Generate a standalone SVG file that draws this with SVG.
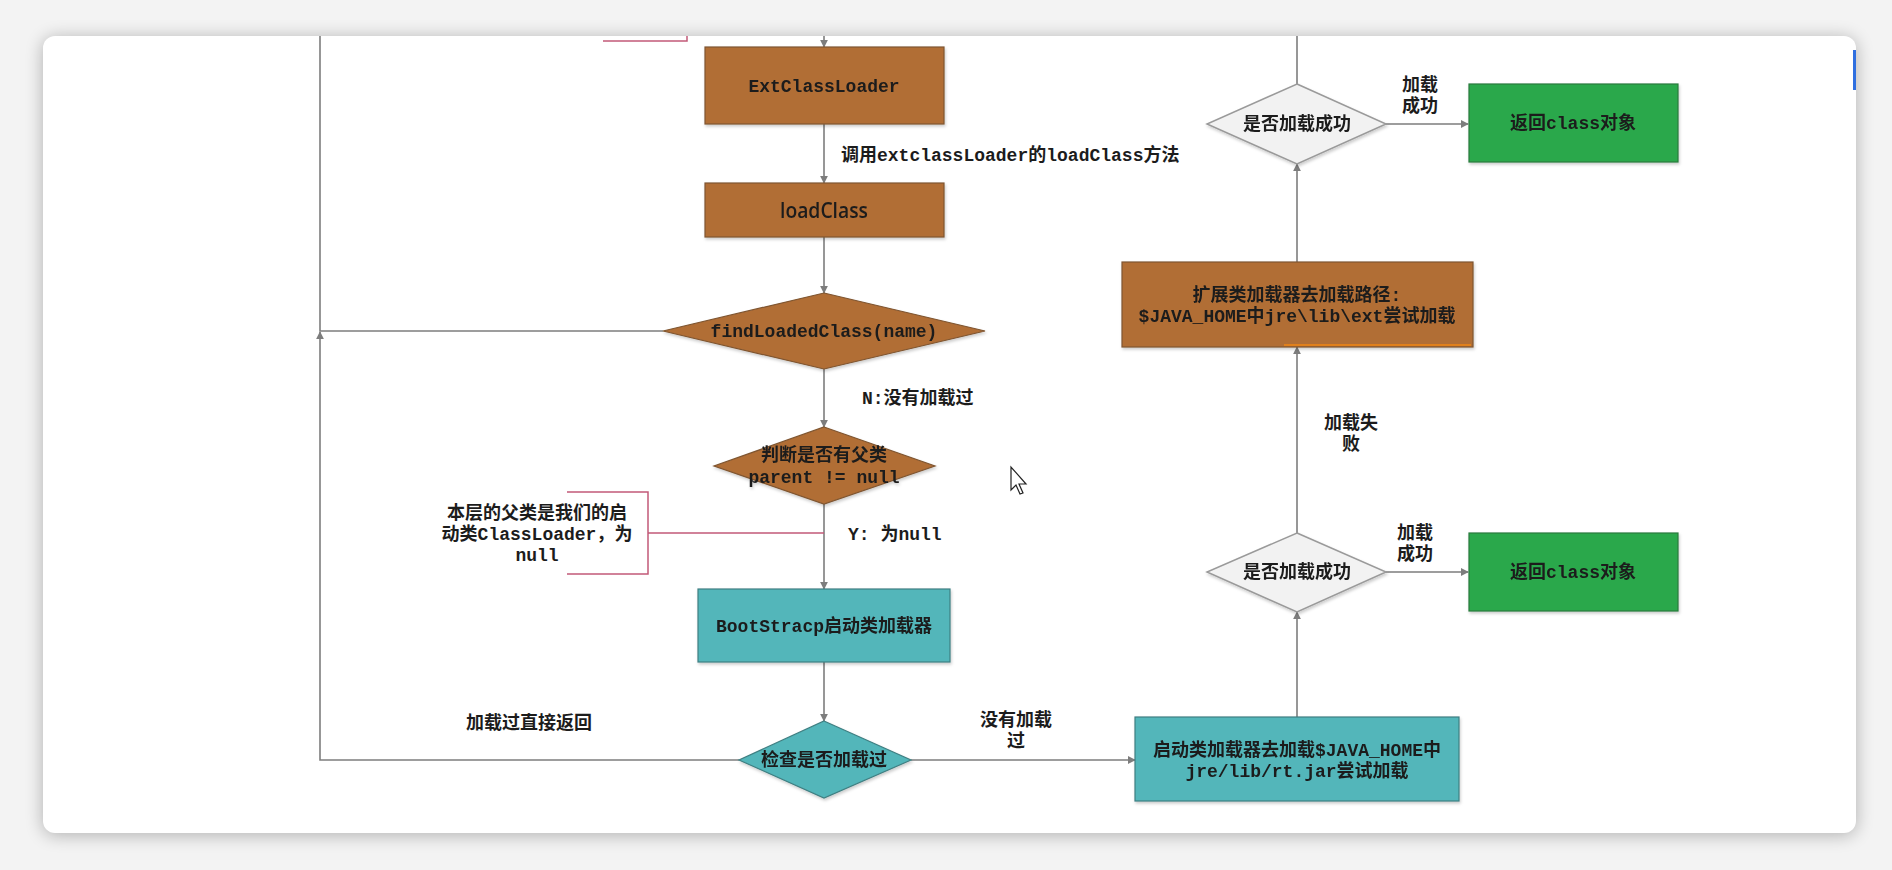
<svg xmlns="http://www.w3.org/2000/svg" width="1892" height="870" viewBox="0 0 1892 870">
<defs>
<style>
.t{font-family:"Liberation Mono","Noto Sans CJK SC",monospace;font-size:18px;font-weight:bold;fill:#1c1c1c;text-anchor:middle}
.l{text-anchor:start}
.conn{fill:none;stroke:#7d7d7d;stroke-width:1.6}
.note{fill:none;stroke:#c25a78;stroke-width:1.5}
.brown{fill:#b16e36;stroke:#7f5530;stroke-width:1.2}
.teal{fill:#52b6ba;stroke:#3f7f82;stroke-width:1.2}
.green{fill:#2ba84b;stroke:#2a7a3c;stroke-width:1.2}
.grey{fill:#f2f2f2;stroke:#9a9a9a;stroke-width:1.5}
</style>
<marker id="arr" viewBox="0 0 10 10" refX="9" refY="5" markerWidth="8" markerHeight="8" markerUnits="userSpaceOnUse" orient="auto">
<path d="M0,0 L10,5 L0,10 Z" fill="#7d7d7d"/>
</marker>
<filter id="sh" x="-5%" y="-5%" width="110%" height="110%">
<feGaussianBlur stdDeviation="9"/>
</filter>
<filter id="ds" x="-10%" y="-10%" width="120%" height="130%">
<feDropShadow dx="1" dy="2" stdDeviation="1.5" flood-color="#000" flood-opacity="0.2"/>
</filter>
</defs>
<rect x="0" y="0" width="1892" height="870" fill="#f3f3f3"/>
<rect x="43" y="38" width="1813" height="797" rx="12" fill="#000" opacity="0.28" filter="url(#sh)"/>
<rect x="43" y="36" width="1813" height="797" rx="12" fill="#ffffff"/>
<rect x="1853" y="50" width="3" height="40" fill="#2f6fe0"/>

<g id="connectors">
<path class="conn" d="M824,36 V47" marker-end="url(#arr)"/>
<path class="conn" d="M824,124 V183" marker-end="url(#arr)"/>
<path class="conn" d="M824,237 V293" marker-end="url(#arr)"/>
<path class="conn" d="M663,331 H320 V36"/>
<path class="conn" d="M739,760 H320 V332" marker-end="url(#arr)"/>
<path class="conn" d="M824,369 V427" marker-end="url(#arr)"/>
<path class="conn" d="M824,504 V589" marker-end="url(#arr)"/>
<path class="conn" d="M824,662 V721" marker-end="url(#arr)"/>
<path class="conn" d="M911,760 H1135" marker-end="url(#arr)"/>
<path class="conn" d="M1297,717 V612" marker-end="url(#arr)"/>
<path class="conn" d="M1297,533 V347" marker-end="url(#arr)"/>
<path class="conn" d="M1297,262 V164" marker-end="url(#arr)"/>
<path class="conn" d="M1297,84 V36"/>
<path class="conn" d="M1386,124 H1468" marker-end="url(#arr)"/>
<path class="conn" d="M1386,572 H1468" marker-end="url(#arr)"/>
<path class="note" d="M603,41 H687 V36"/>
<path class="note" d="M567,492 H648 V574 H567 M648,533 H824"/>
</g>

<g id="labels">
<text class="t l" x="841" y="161">调用extclassLoader的loadClass方法</text>
<text class="t l" x="862" y="404">N:没有加载过</text>
<text class="t l" x="848" y="540">Y: 为null</text>
<text class="t" x="537" y="519">本层的父类是我们的启</text>
<text class="t" x="537" y="540">动类ClassLoader，为</text>
<text class="t" x="537" y="561">null</text>
<text class="t" x="529" y="729">加载过直接返回</text>
<text class="t" x="1016" y="726">没有加载</text>
<text class="t" x="1016" y="747">过</text>
<text class="t" x="1351" y="429">加载失</text>
<text class="t" x="1351" y="450">败</text>
<text class="t" x="1420" y="91">加载</text>
<text class="t" x="1420" y="112">成功</text>
<text class="t" x="1415" y="539">加载</text>
<text class="t" x="1415" y="560">成功</text>
</g>

<g id="extClassLoader" filter="url(#ds)">
<rect class="brown" x="705" y="47" width="239" height="77"/>
<text class="t" x="824" y="92">ExtClassLoader</text>
</g>
<g id="loadClass" filter="url(#ds)">
<rect class="brown" x="705" y="183" width="239" height="54"/>
<text class="t" x="824" y="218" style="font-family:'Open Sans',sans-serif;font-weight:600;font-size:22px" textLength="88" lengthAdjust="spacingAndGlyphs">loadClass</text>
</g>
<g id="findLoadedClass" filter="url(#ds)">
<polygon class="brown" points="824,293 985,331 824,369 663,331" stroke="none"/>
<text class="t" x="824" y="337">findLoadedClass(name)</text>
</g>
<g id="hasParent" filter="url(#ds)">
<polygon class="brown" points="824,427 935,466 824,504 714,466" stroke="none"/>
<text class="t" x="824" y="461">判断是否有父类</text>
<text class="t" x="824" y="483">parent != null</text>
</g>
<g id="bootstrap" filter="url(#ds)">
<rect class="teal" x="698" y="589" width="252" height="73"/>
<text class="t" x="824" y="632">BootStracp启动类加载器</text>
</g>
<g id="checkLoaded" filter="url(#ds)">
<polygon class="teal" points="824,721 911,760 824,798 739,760" stroke="none"/>
<text class="t" x="824" y="766">检查是否加载过</text>
</g>
<g id="bootLoad" filter="url(#ds)">
<rect class="teal" x="1135" y="717" width="324" height="84"/>
<text class="t" x="1297" y="756">启动类加载器去加载$JAVA_HOME中</text>
<text class="t" x="1297" y="777">jre/lib/rt.jar尝试加载</text>
</g>
<g id="successLower" filter="url(#ds)">
<polygon class="grey" points="1297,533 1386,572 1297,612 1207,572"/>
<text class="t" x="1297" y="578">是否加载成功</text>
</g>
<g id="returnLower" filter="url(#ds)">
<rect class="green" x="1469" y="533" width="209" height="78"/>
<text class="t" x="1573" y="578">返回class对象</text>
</g>
<g id="extLoad" filter="url(#ds)">
<rect class="brown" x="1122" y="262" width="351" height="85"/>
<line x1="1284" y1="345" x2="1471" y2="345" stroke="#e0801c" stroke-width="2"/>
<text class="t" x="1297" y="301">扩展类加载器去加载路径:</text>
<text class="t" x="1297" y="322">$JAVA_HOME中jre\lib\ext尝试加载</text>
</g>
<g id="successUpper" filter="url(#ds)">
<polygon class="grey" points="1297,84 1386,124 1297,164 1207,124"/>
<text class="t" x="1297" y="130">是否加载成功</text>
</g>
<g id="returnUpper" filter="url(#ds)">
<rect class="green" x="1469" y="84" width="209" height="78"/>
<text class="t" x="1573" y="129">返回class对象</text>
</g>
<path d="M1011,467 L1011,490 L1016,485 L1020,494 L1023,493 L1019,484 L1026,484 Z" fill="#ffffff" stroke="#222" stroke-width="1.2"/>
</svg>
